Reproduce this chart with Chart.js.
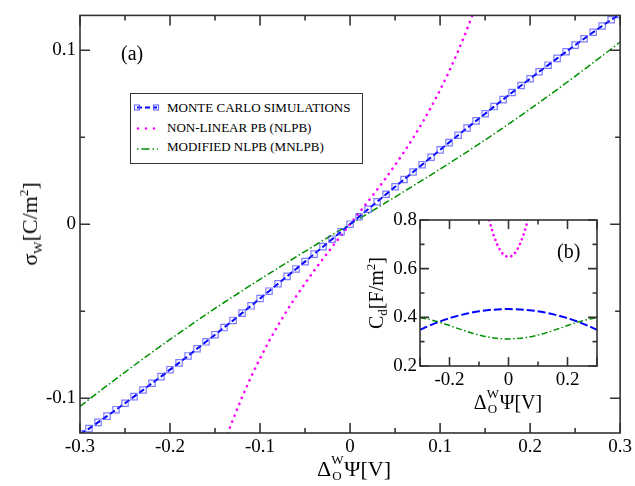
<!DOCTYPE html>
<html>
<head>
<meta charset="utf-8">
<script src="https://cdn.jsdelivr.net/npm/chart.js@4.4.1/dist/chart.umd.min.js"></script>
<style>
  html, body { margin: 0; padding: 0; background: #fff; }
  #wrap { position: relative; width: 635px; height: 486px; overflow: hidden; font-family: "Liberation Serif", "Times New Roman", serif; color: #000; }
  canvas { position: absolute; font-family: "Liberation Serif", serif; }
  .t { position: absolute; white-space: nowrap; font-family: "Liberation Serif", "Times New Roman", serif; }
  .sub, .sup { font-size: 13px; position: relative; line-height: 0; }
  .stack { display: inline-block; position: relative; width: 13px; height: 1px; }
  .stack span { position: absolute; left: 0; font-size: 13px; line-height: 13px; }
  #legend { position: absolute; left: 130px; top: 93px; width: 233px; height: 71px; border: 1.5px solid #333; box-sizing: border-box; background: #fff; }
  .lt { position: absolute; font-size: 13px; line-height: 13px; white-space: nowrap; font-family: "Liberation Serif", "Times New Roman", serif; }
</style>
</head>
<body>
<div id="wrap">
  <canvas id="main" width="635" height="486" style="left:0;top:0"></canvas>
  <canvas id="inset" width="280" height="230" style="left:340px;top:200px"></canvas>

  <div id="legend">
    <svg width="40" height="68" style="position:absolute;left:0;top:0">
      <line x1="6" y1="13.5" x2="26" y2="13.5" stroke="#0000ff" stroke-width="2" stroke-dasharray="5,3"/>
      <rect x="3.5" y="11" width="5" height="5" fill="none" stroke="#5a5aff" stroke-width="1"/>
      <rect x="22.5" y="11" width="5" height="5" fill="none" stroke="#5a5aff" stroke-width="1"/>
      <circle cx="7" cy="34.5" r="1.2" fill="#ff00ff"/>
      <circle cx="15" cy="34.5" r="1.2" fill="#ff00ff"/>
      <circle cx="23" cy="34.5" r="1.2" fill="#ff00ff"/>
      <line x1="6" y1="55" x2="27" y2="55" stroke="#009000" stroke-width="1.5" stroke-dasharray="1.5,3,8,3"/>
    </svg>
  </div>
  <div class="lt" style="left:167px;top:101px">MONTE CARLO SIMULATIONS</div>
  <div class="lt" style="left:167px;top:120.5px">NON-LINEAR PB (NLPB)</div>
  <div class="lt" style="left:167px;top:140px">MODIFIED NLPB (MNLPB)</div>

  <div class="t" style="left:121px;top:43px;font-size:20px;line-height:20px">(a)</div>
  <div class="t" style="left:557px;top:241px;font-size:20px;line-height:20px">(b)</div>

  <div class="t" style="left:30px;top:224px;font-size:22px;line-height:22px;transform:translate(-50%,-50%) rotate(-90deg)">σ<span class="sub" style="top:5px">W</span>[C/m<span class="sup" style="top:-9px">2</span>]</div>
  <div class="t" style="left:354px;top:469px;font-size:22px;line-height:22px;transform:translate(-50%,-50%)">Δ<span class="stack"><span style="bottom:9.9px">W</span><span style="bottom:-6.1px;left:1px">O</span></span>Ψ[V]</div>

  <div class="t" style="left:376px;top:293px;font-size:20px;line-height:20px;transform:translate(-50%,-50%) rotate(-90deg)">C<span class="sub" style="top:4px">d</span>[F/m<span class="sup" style="top:-8px">2</span>]</div>
  <div class="t" style="left:508px;top:402px;font-size:20px;line-height:20px;transform:translate(-50%,-50%)">Δ<span class="stack"><span style="bottom:8.9px">W</span><span style="bottom:-6.1px;left:1px">O</span></span>Ψ[V]</div>
</div>

<script>
// ---------- DATA ----------
// Main panel (a): surface charge density sigma_W [C/m^2] vs potential [V]
const psiMain = [-0.30,-0.29,-0.28,-0.27,-0.26,-0.25,-0.24,-0.23,-0.22,-0.21,-0.20,-0.19,-0.18,-0.17,-0.16,-0.15,-0.14,-0.13,-0.12,-0.11,-0.10,-0.09,-0.08,-0.07,-0.06,-0.05,-0.04,-0.03,-0.02,-0.01,0,
                 0.01,0.02,0.03,0.04,0.05,0.06,0.07,0.08,0.09,0.10,0.11,0.12,0.13,0.14,0.15,0.16,0.17,0.18,0.19,0.20,0.21,0.22,0.23,0.24,0.25,0.26,0.27,0.28,0.29,0.30];
const sigmaMC = [-0.1205,-0.1175,-0.1139,-0.1103,-0.1066,-0.1029,-0.0991,-0.0953,-0.0914,-0.0876,-0.0836,-0.0797,-0.0757,-0.0716,-0.0676,-0.0635,-0.0594,-0.0553,-0.0511,-0.0469,-0.0427,-0.0385,-0.0342,-0.0300,-0.0257,-0.0215,-0.0172,-0.0129,-0.0086,-0.0043,0,
                 0.0043,0.0086,0.0129,0.0172,0.0215,0.0257,0.0300,0.0342,0.0385,0.0427,0.0469,0.0511,0.0553,0.0594,0.0635,0.0676,0.0716,0.0757,0.0797,0.0836,0.0876,0.0914,0.0953,0.0991,0.1029,0.1066,0.1103,0.1139,0.1175,0.1205];
const sigmaMNLPB = [-0.1047,-0.1007,-0.0967,-0.0928,-0.0889,-0.0850,-0.0812,-0.0774,-0.0736,-0.0699,-0.0662,-0.0626,-0.0590,-0.0554,-0.0519,-0.0484,-0.0450,-0.0416,-0.0383,-0.0349,-0.0317,-0.0284,-0.0252,-0.0220,-0.0188,-0.0156,-0.0125,-0.0093,-0.0062,-0.0031,0,
                    0.0031,0.0062,0.0093,0.0125,0.0156,0.0188,0.0220,0.0252,0.0284,0.0317,0.0349,0.0383,0.0416,0.0450,0.0484,0.0519,0.0554,0.0590,0.0626,0.0662,0.0699,0.0736,0.0774,0.0812,0.0850,0.0889,0.0928,0.0967,0.1007,0.1047];
const psiNLPB = [-0.15,-0.14,-0.13,-0.12,-0.11,-0.10,-0.09,-0.08,-0.07,-0.06,-0.05,-0.04,-0.03,-0.02,-0.01,0,
                 0.01,0.02,0.03,0.04,0.05,0.06,0.07,0.08,0.09,0.10,0.11,0.12,0.13,0.14,0.15];
const sigmaNLPB = [-0.1412,-0.1260,-0.1121,-0.0994,-0.0878,-0.0771,-0.0672,-0.0581,-0.0495,-0.0415,-0.0340,-0.0267,-0.0198,-0.0131,-0.0065,0,
                   0.0065,0.0131,0.0198,0.0267,0.0340,0.0415,0.0495,0.0581,0.0672,0.0771,0.0878,0.0994,0.1121,0.1260,0.1412];

// Inset (b): differential capacitance C_d [F/m^2] vs potential [V]
const psiInset = [-0.30,-0.28,-0.26,-0.24,-0.22,-0.20,-0.18,-0.16,-0.14,-0.12,-0.10,-0.08,-0.06,-0.04,-0.02,0,
                  0.02,0.04,0.06,0.08,0.10,0.12,0.14,0.16,0.18,0.20,0.22,0.24,0.26,0.28,0.30];
const cdMC = [0.3483,0.3597,0.3702,0.3798,0.3886,0.3966,0.4038,0.4102,0.4158,0.4207,0.4248,0.4281,0.4307,0.4325,0.4336,0.4340,
              0.4336,0.4325,0.4307,0.4281,0.4248,0.4207,0.4158,0.4102,0.4038,0.3966,0.3886,0.3798,0.3702,0.3597,0.3483];
const cdMNLPB = [0.3980,0.3943,0.3889,0.3821,0.3744,0.3662,0.3577,0.3494,0.3413,0.3339,0.3273,0.3216,0.3171,0.3137,0.3117,0.3110,
                 0.3117,0.3137,0.3171,0.3216,0.3273,0.3339,0.3413,0.3494,0.3577,0.3662,0.3744,0.3821,0.3889,0.3943,0.3980];
const psiInsetNLPB = [-0.08,-0.07,-0.06,-0.05,-0.04,-0.03,-0.02,-0.01,0,0.01,0.02,0.03,0.04,0.05,0.06,0.07,0.08];
const cdNLPB = [0.8807,0.8239,0.7757,0.7359,0.7038,0.6792,0.6618,0.6514,0.6480,0.6514,0.6618,0.6792,0.7038,0.7359,0.7757,0.8239,0.8807];

// Tick labels / tick marks
const xTicksMain = [-0.3,-0.2,-0.1,0,0.1,0.2,0.3];
const xMinorMain = [-0.25,-0.15,-0.05,0.05,0.15,0.25];
const yTicksMain = [-0.1,0,0.1];
const yMinorMain = [-0.05,0.05];
const xTicksInset = [-0.2,0,0.2];
const xMinorInset = [-0.1,0.1];
const yTicksInset = [0.2,0.4,0.6,0.8];
const yMinorInset = [0.3,0.5,0.7];

// ---------- helpers ----------
const pts = (xs, ys) => xs.map((x, i) => ({ x: x, y: ys[i] }));
const fmt = v => String(Math.round(v * 1000) / 1000);
const FONT = '"Liberation Serif", serif';

const frameTicks = {
  id: 'frameTicks',
  afterDatasetsDraw(chart, args, o) {
    const { ctx, chartArea: a, scales: { x, y } } = chart;
    ctx.save();
    ctx.strokeStyle = o.color;
    ctx.lineWidth = o.width;
    ctx.beginPath();
    const vx = (vals, len) => {
      for (const v of vals) {
        const p = x.getPixelForValue(v);
        ctx.moveTo(p, a.bottom); ctx.lineTo(p, a.bottom - len);
        ctx.moveTo(p, a.top); ctx.lineTo(p, a.top + len);
      }
    };
    const vy = (vals, len) => {
      for (const v of vals) {
        const p = y.getPixelForValue(v);
        ctx.moveTo(a.left, p); ctx.lineTo(a.left + len, p);
        ctx.moveTo(a.right, p); ctx.lineTo(a.right - len, p);
      }
    };
    vx(o.xMajor, o.major); vx(o.xMinor, o.minor);
    vy(o.yMajor, o.major); vy(o.yMinor, o.minor);
    ctx.stroke();
    ctx.strokeRect(a.left, a.top, a.right - a.left, a.bottom - a.top);
    ctx.restore();
  }
};

function axis(min, max, ticks, pad, fit, isX) {
  return {
    type: 'linear', min: min, max: max,
    grid: { display: false, drawTicks: false },
    border: { display: false },
    ticks: { font: { family: FONT, size: 19 }, color: '#000', padding: pad, autoSkip: false, maxRotation: 0, callback: v => fmt(v) },
    afterBuildTicks: s => { s.ticks = ticks.map(v => ({ value: v })); },
    afterFit: s => { if (isX) s.height = fit; else s.width = fit; }
  };
}

function build() {
  Chart.defaults.font.family = FONT;
  const common = {
    responsive: false, animation: false, devicePixelRatio: 1,
    events: [],
    plugins: { legend: { display: false }, tooltip: { enabled: false } }
  };

  new Chart(document.getElementById('main'), {
    type: 'scatter',
    data: {
      datasets: [
        { label: 'MONTE CARLO SIMULATIONS', data: pts(psiMain, sigmaMC), showLine: true,
          borderColor: '#0000ff', borderWidth: 2, borderDash: [6, 3],
          pointStyle: 'rect', pointRadius: 4.5, pointBorderColor: 'rgba(70,70,255,0.7)', pointBackgroundColor: 'rgba(0,0,0,0)', pointBorderWidth: 1.2 },
        { label: 'NON-LINEAR PB (NLPB)', data: pts(psiNLPB, sigmaNLPB), showLine: true,
          borderColor: '#ff00ff', borderWidth: 2.6, borderDash: [0.1, 6.3], borderCapStyle: 'round', pointRadius: 0 },
        { label: 'MODIFIED NLPB (MNLPB)', data: pts(psiMain, sigmaMNLPB), showLine: true,
          borderColor: '#009000', borderWidth: 1.5, borderDash: [7, 2.5, 1.5, 2.5], pointRadius: 0 }
      ]
    },
    options: Object.assign({}, common, {
      layout: { padding: { top: 15, right: 14, left: 0, bottom: 0 } },
      scales: {
        x: axis(-0.3, 0.3, xTicksMain, 3, 53, true),
        y: axis(-0.12, 0.12, yTicksMain, 4, 80, false)
      },
      plugins: Object.assign({}, common.plugins, {
        frameTicks: { xMajor: xTicksMain, xMinor: xMinorMain, yMajor: yTicksMain, yMinor: yMinorMain, major: 10, minor: 5, color: '#333', width: 1.6 }
      })
    }),
    plugins: [frameTicks]
  });

  new Chart(document.getElementById('inset'), {
    type: 'scatter',
    data: {
      datasets: [
        { label: 'MONTE CARLO SIMULATIONS', data: pts(psiInset, cdMC), showLine: true,
          borderColor: '#0000ff', borderWidth: 2, borderDash: [8, 3], pointRadius: 0 },
        { label: 'NON-LINEAR PB (NLPB)', data: pts(psiInsetNLPB, cdNLPB), showLine: true,
          borderColor: '#ff00ff', borderWidth: 2.6, borderDash: [0.1, 5], borderCapStyle: 'round', pointRadius: 0 },
        { label: 'MODIFIED NLPB (MNLPB)', data: pts(psiInset, cdMNLPB), showLine: true,
          borderColor: '#009000', borderWidth: 1.5, borderDash: [6, 2.5, 1.5, 2.5], pointRadius: 0 }
      ]
    },
    options: Object.assign({}, common, {
      layout: { padding: { top: 20, right: 23, left: 0, bottom: 0 } },
      scales: {
        x: axis(-0.3, 0.3, xTicksInset, 3, 64, true),
        y: axis(0.2, 0.8, yTicksInset, 3, 80, false)
      },
      plugins: Object.assign({}, common.plugins, {
        frameTicks: { xMajor: xTicksInset.concat([-0.3, 0.3]), xMinor: xMinorInset, yMajor: yTicksInset, yMinor: yMinorInset, major: 9, minor: 4.5, color: '#333', width: 1.6 }
      })
    }),
    plugins: [frameTicks]
  });
}

if (document.fonts && document.fonts.load) {
  document.fonts.load('19px "Liberation Serif"').then(build, build);
} else {
  build();
}
</script>
</body>
</html>
